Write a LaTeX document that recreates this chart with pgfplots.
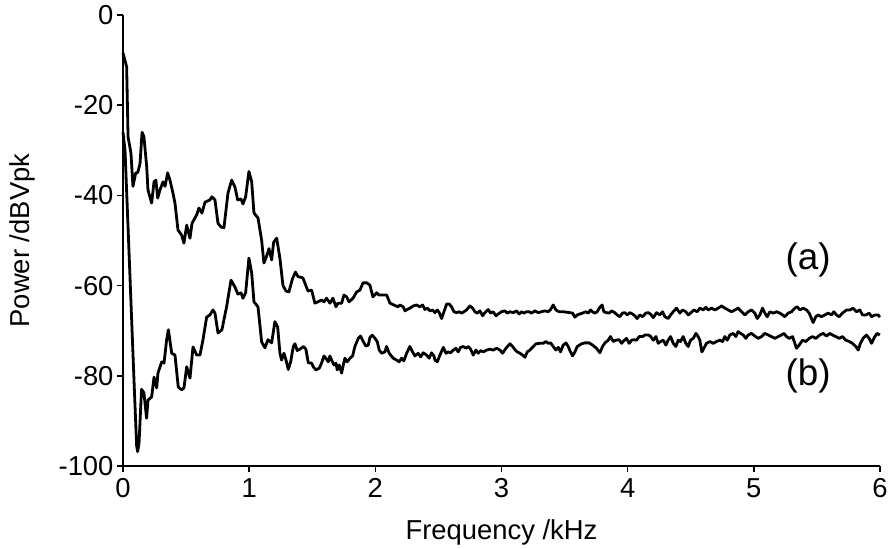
\documentclass[border=0pt]{standalone}
\usepackage{fontspec}
\setmainfont{Liberation Sans}
\usepackage{pgfplots}
\pgfplotsset{compat=1.18}
\begin{document}
\begin{tikzpicture}
\begin{axis}[
  at={(0,0)}, anchor=south west,
  width=757bp, height=451bp, scale only axis,
  xmin=0, xmax=6, ymin=-100, ymax=0,
  xtick={0,1,2,3,4,5,6}, ytick={-100,-80,-60,-40,-20,0},
  axis x line*=bottom, axis y line*=left,
  axis line style={line width=1.8bp, black, -},
  tick style={line width=1.6bp, black},
  tick align=outside, major tick length=6bp,
  ticklabel style={font=\fontsize{27.5}{32}\selectfont},
  x tick label style={yshift=-3bp},
  label style={font=\fontsize{27.5}{32}\selectfont},
  /pgf/number format/assume math mode=true,
  xlabel={Frequency /kHz}, ylabel={Power /dBVpk},
  x label style={at={(axis description cs:0.5,-0.148)}, anchor=center},
  y label style={at={(axis description cs:-0.1334,0.5)}, anchor=center, rotate=0},
  clip=false,
]
% curve (a)
\addplot[black, line width=2.8bp, line join=round] coordinates {
(0.000,-8.4)(0.029,-11.5)(0.040,-27)(0.063,-30.6)(0.079,-38)(0.101,-35)(0.116,-35)(0.135,-33)(0.151,-26)(0.166,-27)(0.188,-33.7)(0.198,-38.8)(0.227,-41.7)(0.246,-37)(0.261,-36.6)(0.275,-40.6)(0.293,-38.8)(0.317,-37)(0.333,-38)(0.354,-35)(0.372,-36.6)(0.396,-39.5)(0.412,-41.7)(0.436,-47.7)(0.465,-48.8)(0.483,-50.6)(0.505,-46.6)(0.531,-49.5)(0.547,-46.2)(0.584,-44.3)(0.602,-42.8)(0.626,-43.9)(0.650,-41.5)(0.689,-41)(0.705,-40.3)(0.729,-41)(0.753,-46.2)(0.777,-47)(0.800,-47.2)(0.832,-39.5)(0.861,-36.6)(0.887,-38.1)(0.909,-41)(0.935,-40.8)(0.951,-41.9)(0.972,-40.3)(0.998,-34.7)(1.020,-37)(1.038,-43.9)(1.070,-45)(1.099,-50)(1.117,-55)(1.139,-53.4)(1.157,-51.8)(1.178,-54.3)(1.194,-50.4)(1.218,-49.5)(1.244,-54)(1.268,-60)(1.292,-61.2)(1.315,-61.4)(1.343,-58.5)(1.367,-57)(1.387,-58)(1.426,-58.3)(1.466,-61.2)(1.495,-61)(1.521,-63.9)(1.545,-63.6)(1.574,-63.2)(1.593,-63.6)(1.614,-62.8)(1.640,-63.9)(1.664,-62.8)(1.688,-64.7)(1.704,-63.9)(1.733,-63.9)(1.751,-62.1)(1.773,-62.5)(1.791,-63.6)(1.823,-62.8)(1.852,-61.4)(1.878,-61)(1.902,-59.4)(1.933,-59.4)(1.957,-59.9)(1.981,-62.5)(2.010,-61.6)(2.029,-62.1)(2.058,-62.1)(2.090,-62.1)(2.116,-63.9)(2.147,-64.3)(2.179,-64.7)
(2.195,-64.3)(2.221,-64.7)(2.235,-65.6)(2.253,-65.3)(2.274,-65.0)(2.301,-64.5)(2.327,-64.3)(2.353,-64.7)(2.375,-64.3)(2.393,-65.3)(2.412,-65.0)(2.433,-65.6)(2.454,-65.4)(2.472,-66.0)(2.491,-65.4)(2.507,-66.0)(2.525,-67.3)(2.544,-65.8)(2.565,-64.1)(2.586,-64.1)(2.604,-64.7)(2.623,-65.8)(2.644,-66.0)(2.665,-65.8)(2.684,-66.1)(2.702,-65.8)(2.723,-65.4)(2.750,-64.5)(2.771,-65.0)(2.789,-65.8)(2.808,-66.1)(2.829,-65.6)(2.850,-66.7)(2.868,-66.0)(2.895,-65.3)(2.913,-66.1)(2.934,-65.8)(2.956,-66.7)(2.974,-66.3)(3.000,-65.8)(3.027,-65.6)(3.045,-66.1)(3.067,-65.8)(3.093,-66.0)(3.119,-65.6)(3.140,-66.3)(3.159,-65.8)(3.177,-66.1)(3.199,-65.8)(3.220,-65.8)(3.238,-66.1)(3.265,-65.6)(3.291,-66.0)(3.317,-65.8)(3.344,-65.6)(3.370,-65.8)(3.389,-65.3)(3.410,-64.3)(3.431,-65.4)(3.457,-65.8)(3.489,-65.8)(3.516,-65.9)(3.542,-66.0)(3.563,-66.1)(3.582,-67.0)(3.600,-66.5)(3.621,-66.3)(3.642,-66.1)(3.669,-65.8)(3.687,-66.1)(3.706,-65.4)(3.721,-65.8)(3.740,-66.1)(3.758,-65.8)(3.780,-64.8)(3.798,-64.3)(3.811,-65.8)(3.832,-66.0)(3.854,-66.1)(3.872,-65.6)(3.898,-66.0)(3.917,-66.5)(3.938,-66.9)(3.959,-66.1)(3.978,-66.0)(3.996,-66.5)(4.017,-66.0)(4.038,-66.3)(4.057,-66.7)(4.075,-67.3)(4.096,-66.5)(4.118,-66.9)(4.144,-66.1)(4.163,-66.0)
(4.180,-66.3)(4.203,-67.1)(4.229,-66.0)(4.255,-66.5)(4.277,-65.8)(4.295,-66.9)(4.321,-67.3)(4.340,-66.5)(4.361,-65.8)(4.387,-65.0)(4.414,-66.1)(4.435,-65.4)(4.461,-65.8)(4.480,-66.5)(4.498,-66.1)(4.525,-65.4)(4.551,-65.8)(4.572,-65.0)(4.599,-65.4)(4.620,-64.8)(4.638,-65.4)(4.665,-65.0)(4.691,-65.4)(4.718,-65.0)(4.744,-64.5)(4.770,-65.0)(4.797,-65.4)(4.823,-65.8)(4.850,-65.4)(4.876,-65.0)(4.903,-65.8)(4.929,-66.5)(4.955,-65.8)(4.982,-65.4)(5.008,-66.1)(5.027,-67.3)(5.048,-66.5)(5.069,-65.0)(5.087,-66.1)(5.106,-66.9)(5.127,-65.8)(5.153,-66.1)(5.180,-65.8)(5.206,-66.1)(5.227,-66.5)(5.246,-66.9)(5.272,-66.1)(5.299,-65.8)(5.325,-65.0)(5.344,-64.7)(5.365,-65.4)(5.391,-65.0)(5.418,-65.4)(5.439,-66.1)(5.457,-67.3)(5.470,-68.2)(5.491,-66.9)(5.510,-66.5)(5.536,-66.9)(5.563,-66.5)(5.589,-66.1)(5.616,-66.5)(5.634,-65.8)(5.655,-66.5)(5.676,-66.9)(5.703,-66.1)(5.735,-65.4)(5.761,-65.4)(5.787,-65.0)(5.814,-65.8)(5.840,-65.4)(5.861,-66.5)(5.888,-66.5)(5.914,-66.1)(5.933,-66.9)(5.959,-66.5)(5.985,-66.5)(5.999,-67.0)
};
% curve (b)
\addplot[black, line width=2.8bp, line join=round] coordinates {
(0.000,-26)(0.008,-28)(0.016,-30)(0.040,-47)(0.065,-65)(0.090,-83)(0.108,-95.5)(0.116,-96.8)(0.127,-95)(0.147,-83)(0.166,-83.8)(0.187,-89.4)(0.198,-85.4)(0.227,-84.7)(0.246,-80.3)(0.267,-82.7)(0.277,-79.4)(0.307,-76.9)(0.325,-77.2)(0.346,-72)(0.360,-69.8)(0.386,-75)(0.412,-75.4)(0.438,-82.5)(0.465,-83.1)(0.483,-82.7)(0.505,-78)(0.531,-80.5)(0.555,-73.6)(0.584,-75.4)(0.610,-75.4)(0.634,-72)(0.663,-67)(0.689,-66.5)(0.713,-65.4)(0.729,-66.1)(0.753,-70.5)(0.784,-69.8)(0.821,-64.7)(0.856,-58.8)(0.887,-60.3)(0.911,-61.9)(0.935,-61.6)(0.951,-62.8)(0.972,-61.6)(0.998,-53.9)(1.020,-57.2)(1.038,-63.6)(1.070,-64.7)(1.099,-72.5)(1.125,-73.8)(1.149,-72)(1.178,-72.7)(1.204,-68)(1.226,-69.2)
(1.244,-75.0)(1.257,-76.5)(1.276,-75.0)(1.292,-76.5)(1.310,-78.6)(1.329,-76.9)(1.350,-73.5)(1.363,-72.9)(1.381,-74.4)(1.402,-74.1)(1.429,-73.5)(1.450,-74.1)(1.468,-77.1)(1.495,-77.2)(1.508,-78.0)(1.529,-78.7)(1.556,-78.3)(1.574,-77.2)(1.593,-75.6)(1.608,-76.1)(1.627,-76.9)(1.640,-75.6)(1.653,-76.5)(1.672,-77.6)(1.688,-77.2)(1.698,-78.7)(1.714,-77.6)(1.733,-79.4)(1.746,-77.6)(1.759,-76.1)(1.777,-76.9)(1.799,-76.1)(1.820,-75.6)(1.838,-73.5)(1.865,-71.7)(1.883,-71.2)(1.904,-72.4)(1.925,-73.4)(1.944,-73.2)(1.957,-71.5)(1.976,-71.0)(1.997,-71.7)(2.015,-72.4)(2.031,-74.3)(2.050,-75.0)(2.076,-74.7)(2.089,-73.5)(2.110,-75.0)(2.142,-76.1)(2.168,-76.5)(2.189,-76.9)(2.208,-76.1)(2.226,-76.7)(2.248,-75.0)(2.274,-73.5)(2.295,-74.7)(2.314,-75.6)(2.340,-75.0)(2.359,-75.8)(2.380,-74.9)(2.406,-75.4)(2.427,-76.1)
(2.446,-74.9)(2.464,-75.6)(2.473,-76.5)(2.491,-76.9)(2.512,-75.4)(2.539,-73.7)(2.560,-75.0)(2.578,-74.7)(2.597,-74.9)(2.618,-74.3)(2.639,-73.9)(2.657,-74.7)(2.676,-73.7)(2.697,-73.5)(2.718,-73.9)(2.737,-73.5)(2.755,-74.1)(2.776,-75.4)(2.797,-74.3)(2.816,-75.0)(2.834,-74.4)(2.856,-74.7)(2.882,-74.3)(2.908,-74.1)(2.935,-74.3)(2.961,-73.9)(2.988,-74.3)(3.009,-75.0)(3.035,-73.9)(3.067,-72.9)(3.088,-73.5)(3.109,-74.3)(3.125,-74.7)(3.146,-75.0)(3.167,-75.4)(3.186,-75.9)(3.204,-74.7)(3.225,-74.3)(3.252,-73.5)(3.273,-72.9)(3.305,-72.8)(3.331,-72.8)(3.352,-72.4)(3.371,-72.8)(3.389,-72.7)(3.410,-73.5)(3.431,-74.3)(3.450,-73.7)(3.468,-74.7)(3.489,-73.2)(3.511,-72.7)(3.529,-73.5)(3.542,-74.4)(3.563,-75.6)(3.582,-74.7)(3.600,-73.5)(3.635,-72.9)(3.661,-72.7)(3.695,-72.7)(3.722,-73.2)(3.753,-73.9)(3.780,-74.9)(3.801,-73.5)(3.820,-72.7)(3.846,-72.1)(3.864,-71.3)(3.886,-72.4)(3.907,-72.1)(3.933,-72.0)(3.952,-72.8)(3.970,-72.2)(3.991,-71.7)(4.012,-72.8)(4.031,-72.1)(4.049,-72.0)(4.070,-72.1)(4.092,-71.3)(4.118,-71.3)(4.137,-70.95)(4.163,-70.95)
(4.180,-71.2)(4.203,-72.1)(4.224,-71.3)(4.242,-72.8)(4.261,-72.4)(4.282,-72.1)(4.303,-73.2)(4.321,-72.1)(4.340,-71.3)(4.361,-72.8)(4.382,-73.5)(4.401,-72.1)(4.419,-72.4)(4.440,-71.3)(4.461,-72.8)(4.480,-73.5)(4.498,-72.1)(4.520,-71.7)(4.541,-70.6)(4.559,-71.3)(4.572,-72.1)(4.588,-74.7)(4.604,-73.9)(4.625,-72.8)(4.652,-72.4)(4.678,-72.8)(4.704,-72.4)(4.731,-72.1)(4.752,-72.4)(4.770,-71.3)(4.789,-72.1)(4.810,-70.95)(4.836,-70.6)(4.858,-71.3)(4.876,-70.2)(4.895,-70.6)(4.916,-70.95)(4.937,-71.7)(4.955,-70.95)(4.982,-70.6)(5.008,-71.2)(5.035,-71.7)(5.061,-71.3)(5.087,-70.6)(5.114,-70.95)(5.140,-71.3)(5.167,-71.7)(5.193,-71.3)(5.219,-70.95)(5.238,-70.6)(5.259,-71.3)(5.280,-71.7)(5.307,-71.3)(5.325,-72.8)(5.338,-73.9)(5.359,-73.2)(5.386,-72.1)(5.412,-72.4)(5.439,-71.7)(5.465,-71.3)(5.491,-71.7)(5.523,-70.95)(5.550,-70.6)(5.576,-71.2)(5.602,-70.6)(5.623,-70.95)(5.650,-71.3)(5.676,-71.7)(5.703,-71.3)(5.729,-72.1)(5.756,-72.4)(5.782,-72.8)(5.808,-73.5)(5.827,-74.3)(5.845,-72.8)(5.866,-71.7)(5.893,-70.95)(5.914,-71.7)(5.933,-72.8)(5.959,-71.3)(5.977,-70.6)(5.999,-70.95)
};
\node[font=\fontsize{37}{44}\selectfont] at (axis cs:5.43,-54.3) {(a)};
\node[font=\fontsize{37}{44}\selectfont] at (axis cs:5.43,-80.0) {(b)};
\end{axis}
\pgfresetboundingbox
\path[use as bounding box] (-123bp,-83bp) rectangle (767bp,466bp);
\end{tikzpicture}
\end{document}
